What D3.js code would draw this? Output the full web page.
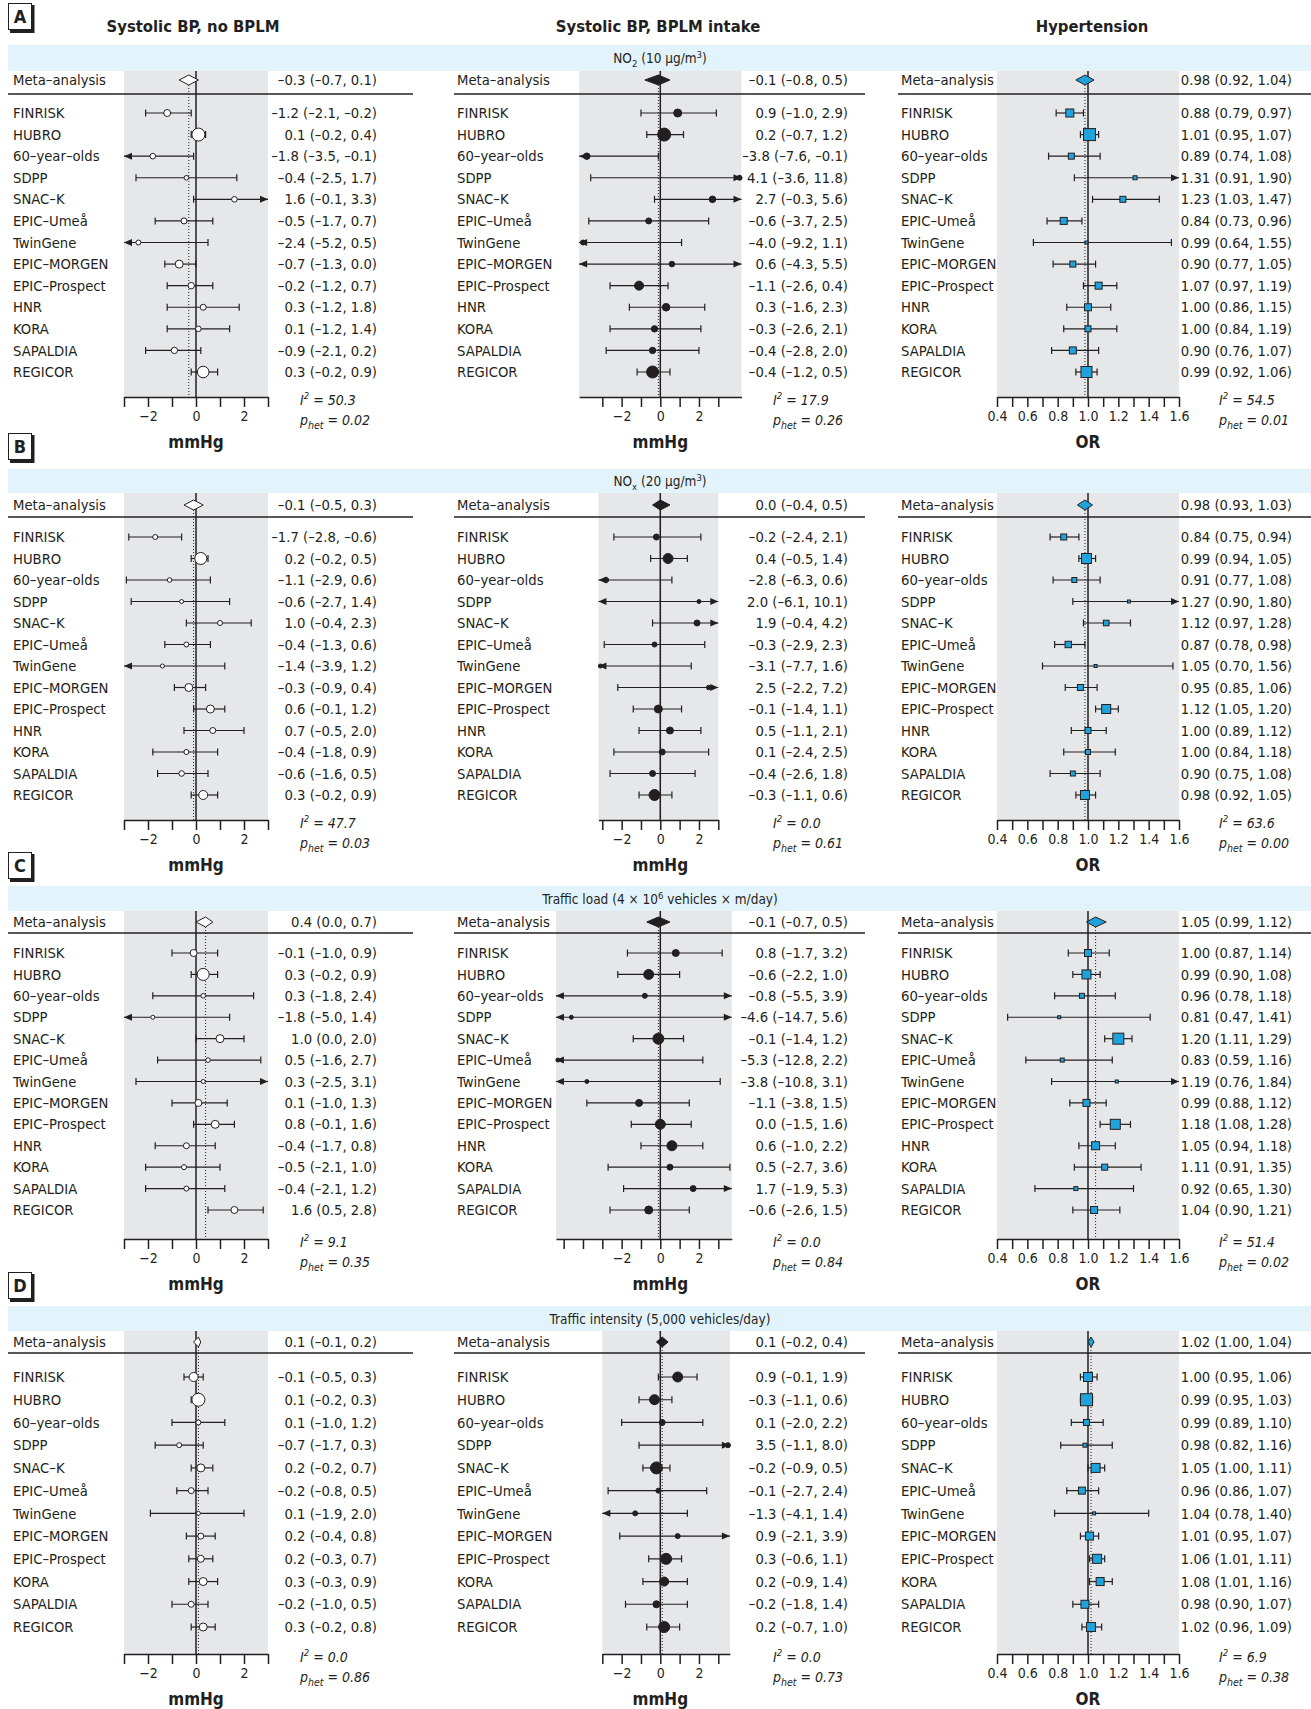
<!DOCTYPE html>
<meta charset="utf-8">
<style>
body { margin: 0; background: #fff; }
svg text { font-family: "Liberation Sans Narrow", "Arial Narrow", "DejaVu Sans Condensed", sans-serif; fill: #231f20; }
.lbl, .val { font-size: 14.7px; }
.het { font-size: 14px; font-style: italic; }
.title { font-size: 16.5px; font-weight: bold; }
.band { font-size: 13.5px; }
.letter { font-size: 18px; font-weight: bold; }
.axis text { font-size: 14px; font-family: "Liberation Sans Narrow", "DejaVu Sans Condensed", sans-serif; fill: #231f20; }
.axis path, .axis line { stroke: #231f20; stroke-width: 1.5; }
.unit { font-size: 17px; font-weight: bold; }
</style>
<body>
<script src="https://d3js.org/d3.v7.min.js"></script>
<script>

// ---- data ----
var studies = ["FINRISK", "HUBRO", "60–year–olds", "SDPP", "SNAC–K", "EPIC–Umeå", "TwinGene",
               "EPIC–MORGEN", "EPIC–Prospect", "HNR", "KORA", "SAPALDIA", "REGICOR"];
var studiesD = ["FINRISK", "HUBRO", "60–year–olds", "SDPP", "SNAC–K", "EPIC–Umeå", "TwinGene",
                "EPIC–MORGEN", "EPIC–Prospect", "KORA", "SAPALDIA", "REGICOR"];

var columnTitles = ["Systolic BP, no BPLM", "Systolic BP, BPLM intake", "Hypertension"];

// [estimate, lower, upper]
// A: NO2
var sbpNoNO2 = [[-1.2,-2.1,-0.2],[0.1,-0.2,0.4],[-1.8,-3.5,-0.1],[-0.4,-2.5,1.7],[1.6,-0.1,3.3],[-0.5,-1.7,0.7],[-2.4,-5.2,0.5],[-0.7,-1.3,0.0],[-0.2,-1.2,0.7],[0.3,-1.2,1.8],[0.1,-1.2,1.4],[-0.9,-2.1,0.2],[0.3,-0.2,0.9]];
var sbpMedNO2 = [[0.9,-1.0,2.9],[0.2,-0.7,1.2],[-3.8,-7.6,-0.1],[4.1,-3.6,11.8],[2.7,-0.3,5.6],[-0.6,-3.7,2.5],[-4.0,-9.2,1.1],[0.6,-4.3,5.5],[-1.1,-2.6,0.4],[0.3,-1.6,2.3],[-0.3,-2.6,2.1],[-0.4,-2.8,2.0],[-0.4,-1.2,0.5]];
var htnNO2 = [[0.88,0.79,0.97],[1.01,0.95,1.07],[0.89,0.74,1.08],[1.31,0.91,1.90],[1.23,1.03,1.47],[0.84,0.73,0.96],[0.99,0.64,1.55],[0.90,0.77,1.05],[1.07,0.97,1.19],[1.00,0.86,1.15],[1.00,0.84,1.19],[0.90,0.76,1.07],[0.99,0.92,1.06]];
var metaNO2 = [[-0.3,-0.7,0.1],[-0.1,-0.8,0.5],[0.98,0.92,1.04]];
var hetNO2 = [["50.3","0.02"],["17.9","0.26"],["54.5","0.01"]];
var sizeNO2 = [[3.5,6.5,2.8,2.3,2.8,3,2.5,4,3.2,3,2.8,3.2,5.8],
               [4,6.5,3.2,2.5,3.3,3,2.5,2.8,4.5,3.8,3.2,3.2,6],
               [4,6,3,2,3,3.5,1.5,3,3.5,3.5,3,3.5,5.5]];

// B: NOx
var sbpNoNOx = [[-1.7,-2.8,-0.6],[0.2,-0.2,0.5],[-1.1,-2.9,0.6],[-0.6,-2.7,1.4],[1.0,-0.4,2.3],[-0.4,-1.3,0.6],[-1.4,-3.9,1.2],[-0.3,-0.9,0.4],[0.6,-0.1,1.2],[0.7,-0.5,2.0],[-0.4,-1.8,0.9],[-0.6,-1.6,0.5],[0.3,-0.2,0.9]];
var sbpMedNOx = [[-0.2,-2.4,2.1],[0.4,-0.5,1.4],[-2.8,-6.3,0.6],[2.0,-6.1,10.1],[1.9,-0.4,4.2],[-0.3,-2.9,2.3],[-3.1,-7.7,1.6],[2.5,-2.2,7.2],[-0.1,-1.4,1.1],[0.5,-1.1,2.1],[0.1,-2.4,2.5],[-0.4,-2.6,1.8],[-0.3,-1.1,0.6]];
var htnNOx = [[0.84,0.75,0.94],[0.99,0.94,1.05],[0.91,0.77,1.08],[1.27,0.90,1.80],[1.12,0.97,1.28],[0.87,0.78,0.98],[1.05,0.70,1.56],[0.95,0.85,1.06],[1.12,1.05,1.20],[1.00,0.89,1.12],[1.00,0.84,1.18],[0.90,0.75,1.08],[0.98,0.92,1.05]];
var metaNOx = [[-0.1,-0.5,0.3],[0.0,-0.4,0.5],[0.98,0.93,1.03]];
var hetNOx = [["47.7","0.03"],["0.0","0.61"],["63.6","0.00"]];
var sizeNOx = [[2.5,6,2.3,2,2.5,2.5,2,4,4,3,2.5,2.8,4.5],
               [3,5,2.5,2,3,2.5,2,2.2,4,3.5,3,3,5.5],
               [3,5,2.5,1.5,2.8,3.2,1.5,3,4.5,3,2.5,2.5,4.5]];

// C: traffic load
var sbpNoLoad = [[-0.1,-1.0,0.9],[0.3,-0.2,0.9],[0.3,-1.8,2.4],[-1.8,-5.0,1.4],[1.0,0.0,2.0],[0.5,-1.6,2.7],[0.3,-2.5,3.1],[0.1,-1.0,1.3],[0.8,-0.1,1.6],[-0.4,-1.7,0.8],[-0.5,-2.1,1.0],[-0.4,-2.1,1.2],[1.6,0.5,2.8]];
var sbpMedLoad = [[0.8,-1.7,3.2],[-0.6,-2.2,1.0],[-0.8,-5.5,3.9],[-4.6,-14.7,5.6],[-0.1,-1.4,1.2],[-5.3,-12.8,2.2],[-3.8,-10.8,3.1],[-1.1,-3.8,1.5],[0.0,-1.5,1.6],[0.6,-1.0,2.2],[0.5,-2.7,3.6],[1.7,-1.9,5.3],[-0.6,-2.6,1.5]];
var htnLoad = [[1.00,0.87,1.14],[0.99,0.90,1.08],[0.96,0.78,1.18],[0.81,0.47,1.41],[1.20,1.11,1.29],[0.83,0.59,1.16],[1.19,0.76,1.84],[0.99,0.88,1.12],[1.18,1.08,1.28],[1.05,0.94,1.18],[1.11,0.91,1.35],[0.92,0.65,1.30],[1.04,0.90,1.21]];
var metaLoad = [[0.4,0.0,0.7],[-0.1,-0.7,0.5],[1.05,0.99,1.12]];
var hetLoad = [["9.1","0.35"],["0.0","0.84"],["51.4","0.02"]];
var sizeLoad = [[3.5,6,2.3,2,4,2.3,2,3.5,4,3,2.5,2.5,3.5],
                [3.5,5,2.5,2,5.5,2,2,3.5,5,5,3,3,4],
                [3.5,4.5,2.5,1.5,5.5,2,1.5,3.5,5,4,3,2,3.5]];

// D: traffic intensity
var sbpNoInt = [[-0.1,-0.5,0.3],[0.1,-0.2,0.3],[0.1,-1.0,1.2],[-0.7,-1.7,0.3],[0.2,-0.2,0.7],[-0.2,-0.8,0.5],[0.1,-1.9,2.0],[0.2,-0.4,0.8],[0.2,-0.3,0.7],[0.3,-0.3,0.9],[-0.2,-1.0,0.5],[0.3,-0.2,0.8]];
var sbpMedInt = [[0.9,-0.1,1.9],[-0.3,-1.1,0.6],[0.1,-2.0,2.2],[3.5,-1.1,8.0],[-0.2,-0.9,0.5],[-0.1,-2.7,2.4],[-1.3,-4.1,1.4],[0.9,-2.1,3.9],[0.3,-0.6,1.1],[0.2,-0.9,1.4],[-0.2,-1.8,1.4],[0.2,-0.7,1.0]];
var htnInt = [[1.00,0.95,1.06],[0.99,0.95,1.03],[0.99,0.89,1.10],[0.98,0.82,1.16],[1.05,1.00,1.11],[0.96,0.86,1.07],[1.04,0.78,1.40],[1.01,0.95,1.07],[1.06,1.01,1.11],[1.08,1.01,1.16],[0.98,0.90,1.07],[1.02,0.96,1.09]];
var metaInt = [[0.1,-0.1,0.2],[0.1,-0.2,0.4],[1.02,1.00,1.04]];
var hetInt = [["0.0","0.86"],["0.0","0.73"],["6.9","0.38"]];
var sizeInt = [[4.5,6.5,2.5,2.5,4,3,2,3,3.5,4,3,4],
               [5,5,3,2.5,6,2.5,2.5,2.5,5.5,4.5,3.5,5.5],
               [4.5,6,3,2,4.5,3.5,1.5,4,4.5,4,4,4.5]];

// ---- layout ----
var ink = "#231f20", grey = "#e6e7e8", bandFill = "#e3f3fb", blue = "#1fa3dc";

var panels = [
  {letter: "A", top: 3, bandTop: 45, bandBot: 71, metaY: 80, lineY: 94, row0: 113, rowN: 372, axisY: 397,
   rows: studies, band: [["NO"], ["2", "sub"], [" (10 μg/m"], ["3", "sup"], [")"]],
   data: [sbpNoNO2, sbpMedNO2, htnNO2], size: sizeNO2, meta: metaNO2, het: hetNO2,
   mid: {dom: [-4.2, 4.2], ticks: [-3, -2, -1, 0, 1, 2, 3]}},
  {letter: "B", top: 433, bandTop: 469, bandBot: 493, metaY: 505, lineY: 517, row0: 537, rowN: 795, axisY: 820,
   rows: studies, band: [["NO"], ["x", "sub"], [" (20 μg/m"], ["3", "sup"], [")"]],
   data: [sbpNoNOx, sbpMedNOx, htnNOx], size: sizeNOx, meta: metaNOx, het: hetNOx,
   mid: {dom: [-3.2, 3.0], ticks: [-3, -2, -1, 0, 1, 2, 3]}},
  {letter: "C", top: 852, bandTop: 886, bandBot: 911, metaY: 922, lineY: 933, row0: 953, rowN: 1210, axisY: 1239,
   rows: studies, band: [["Traffic load (4 × 10"], ["6", "sup"], [" vehicles × m/day)"]],
   data: [sbpNoLoad, sbpMedLoad, htnLoad], size: sizeLoad, meta: metaLoad, het: hetLoad,
   mid: {dom: [-5.4, 3.7], ticks: [-5, -4, -3, -2, -1, 0, 1, 2, 3]}},
  {letter: "D", top: 1272, bandTop: 1306, bandBot: 1331, metaY: 1342, lineY: 1353, row0: 1377, rowN: 1627, axisY: 1654,
   rows: studiesD, band: [["Traffic intensity (5,000 vehicles/day)"]],
   data: [sbpNoInt, sbpMedInt, htnInt], size: sizeInt, meta: metaInt, het: hetInt,
   mid: {dom: [-3.0, 3.6], ticks: [-3, -2, -1, 0, 1, 2, 3]}}
];

var cols = [
  {labelX: 13, valueX: 377, hetX: 300, hline: [8, 413], kind: "open", unit: "mmHg", dec: 1, nullV: 0, titleX: 193},
  {labelX: 457, valueX: 848, hetX: 773, hline: [454, 865], kind: "filled", unit: "mmHg", dec: 1, nullV: 0, titleX: 658},
  {labelX: 901, valueX: 1292, hetX: 1219, hline: [898, 1311], kind: "square", unit: "OR", dec: 2, nullV: 1, titleX: 1092}
];

function fmtNum(v, dec) {
  return d3.format("." + dec + "f")(v).replace("−", "–").replace("-", "–");
}
function ciText(d, dec) {
  return fmtNum(d[0], dec) + " (" + fmtNum(d[1], dec) + ", " + fmtNum(d[2], dec) + ")";
}

function xScale(ci, p) {
  if (ci === 0) return d3.scaleLinear().domain([-3, 3]).range([124, 268]);
  if (ci === 2) return d3.scaleLinear().domain([0.4, 1.6]).range([997, 1179]);
  // middle column: same units per mmHg in every panel, domain varies
  var unit = 19.33, zero = 660.3;
  return d3.scaleLinear().domain(p.mid.dom).range(p.mid.dom.map(function(v) { return zero + v * unit; }));
}

var svg = d3.select("body").append("svg").attr("width", 1311).attr("height", 1709);

// column titles
svg.selectAll(".title").data(columnTitles).enter().append("text")
  .attr("class", "title")
  .attr("x", function(d, i) { return cols[i].titleX; })
  .attr("y", 32)
  .attr("text-anchor", "middle")
  .text(function(d) { return d; });

panels.forEach(function(p) {
  var g = svg.append("g");

  // letter box
  g.append("rect").attr("x", 8.5).attr("y", p.top + 0.5).attr("width", 23).attr("height", 26)
    .attr("fill", "#fff").attr("stroke", ink).attr("stroke-width", 1);
  g.append("path").attr("d", "M33," + (p.top + 2) + "V" + (p.top + 28.5) + "H10")
    .attr("fill", "none").attr("stroke", ink).attr("stroke-width", 3);
  g.append("text").attr("class", "letter").attr("x", 20).attr("y", p.top + 20)
    .attr("text-anchor", "middle").text(p.letter);

  // exposure band
  g.append("rect").attr("x", 8).attr("y", p.bandTop).attr("width", 1303).attr("height", p.bandBot - p.bandTop)
    .attr("fill", bandFill);
  var bt = g.append("text").attr("class", "band").attr("x", 660).attr("y", (p.bandTop + p.bandBot) / 2 + 5)
    .attr("text-anchor", "middle");
  var shift = 0;
  p.band.forEach(function(part) {
    var ts = bt.append("tspan").text(part[0]);
    var target = part[1] === "sub" ? 4 : part[1] === "sup" ? -5 : 0;
    if (target !== shift) { ts.attr("dy", target - shift); shift = target; }
    if (part[1]) ts.style("font-size", "9.5px");
  });

  var y = d3.scalePoint().domain(p.rows).range([p.row0, p.rowN]);

  cols.forEach(function(c, ci) {
    var x = xScale(ci, p);
    var dom = x.domain(), x0 = x(dom[0]), x1 = x(dom[1]);
    var data = p.data[ci], sizes = p.size[ci], meta = p.meta[ci];
    var cg = g.append("g");

    // grey plotting area
    cg.append("rect").attr("x", x0).attr("y", p.bandBot).attr("width", x1 - x0).attr("height", p.axisY - p.bandBot)
      .attr("fill", grey);

    // dotted line at pooled estimate
    cg.append("line").attr("x1", x(meta[0])).attr("x2", x(meta[0]))
      .attr("y1", p.metaY + 5).attr("y2", p.axisY)
      .attr("stroke", ink).attr("stroke-width", 1).attr("stroke-dasharray", "1,2");

    // null line
    cg.append("line").attr("x1", x(c.nullV)).attr("x2", x(c.nullV))
      .attr("y1", p.bandBot).attr("y2", p.axisY)
      .attr("stroke", ink).attr("stroke-width", 1.5);

    // rule under meta-analysis
    cg.append("line").attr("x1", c.hline[0]).attr("x2", c.hline[1])
      .attr("y1", p.lineY).attr("y2", p.lineY).attr("stroke", ink).attr("stroke-width", 1.3);

    // labels
    cg.append("text").attr("class", "lbl").attr("x", c.labelX).attr("y", p.metaY).attr("dy", "0.35em")
      .text("Meta–analysis");
    cg.append("text").attr("class", "val").attr("x", c.valueX).attr("y", p.metaY).attr("dy", "0.35em")
      .attr("text-anchor", "end").text(ciText(meta, c.dec));

    cg.selectAll(".lbl.row").data(p.rows).enter().append("text")
      .attr("class", "lbl row").attr("x", c.labelX).attr("y", function(d) { return y(d); }).attr("dy", "0.35em")
      .text(function(d) { return d; });
    cg.selectAll(".val.row").data(data).enter().append("text")
      .attr("class", "val row").attr("x", c.valueX).attr("y", function(d, i) { return y(p.rows[i]); })
      .attr("dy", "0.35em").attr("text-anchor", "end")
      .text(function(d) { return ciText(d, c.dec); });

    // confidence intervals
    data.forEach(function(d, i) {
      var yy = y(p.rows[i]);
      var lo = Math.max(d[1], dom[0]), hi = Math.min(d[2], dom[1]);
      cg.append("line").attr("x1", x(lo)).attr("x2", x(hi)).attr("y1", yy).attr("y2", yy)
        .attr("stroke", ink).attr("stroke-width", 1.2);
      [[d[1], dom[0], -1], [d[2], dom[1], 1]].forEach(function(e) {
        var outside = e[2] < 0 ? e[0] < e[1] : e[0] > e[1];
        if (outside) {
          var xe = x(e[1]);
          cg.append("path")
            .attr("d", "M" + xe + "," + yy + "L" + (xe - e[2] * 8) + "," + (yy - 3.5) + "L" + (xe - e[2] * 8) + "," + (yy + 3.5) + "Z")
            .attr("fill", ink);
        } else {
          cg.append("line").attr("x1", x(e[0])).attr("x2", x(e[0])).attr("y1", yy - 3.5).attr("y2", yy + 3.5)
            .attr("stroke", ink).attr("stroke-width", 1.2);
        }
      });
    });

    // study markers
    data.forEach(function(d, i) {
      var yy = y(p.rows[i]), s = sizes[i], xc = x(Math.max(dom[0], Math.min(dom[1], d[0])));
      if (c.kind === "square") {
        cg.append("rect").attr("x", xc - s).attr("y", yy - s).attr("width", 2 * s).attr("height", 2 * s)
          .attr("fill", blue).attr("stroke", ink).attr("stroke-width", 1);
      } else {
        cg.append("circle").attr("cx", xc).attr("cy", yy).attr("r", s)
          .attr("fill", c.kind === "open" ? "#fff" : ink).attr("stroke", ink).attr("stroke-width", 1);
      }
    });

    // pooled diamond
    var my = p.metaY;
    cg.append("path")
      .attr("d", "M" + x(meta[1]) + "," + my + "L" + x(meta[0]) + "," + (my - 5) + "L" + x(meta[2]) + "," + my +
                 "L" + x(meta[0]) + "," + (my + 5) + "Z")
      .attr("fill", c.kind === "open" ? "#fff" : c.kind === "filled" ? ink : blue)
      .attr("stroke", ink).attr("stroke-width", 1);

    // axis
    var tv = ci === 2 ? d3.range(4, 17).map(function(v) { return v / 10; }) : ci === 1 ? p.mid.ticks : d3.range(-3, 4);
    var axis = d3.axisBottom(x).tickValues(tv).tickSize(10).tickSizeOuter(0).tickPadding(4)
      .tickFormat(function(v) {
        if (ci === 2) return Math.round(v * 10) % 2 === 0 ? d3.format(".1f")(v) : "";
        return (v === -2 || v === 0 || v === 2) ? d3.format("d")(v) : "";
      });
    cg.append("g").attr("class", "axis").attr("transform", "translate(0," + p.axisY + ")").call(axis);

    cg.append("text").attr("class", "unit").attr("x", x(c.nullV)).attr("y", p.axisY + 51)
      .attr("text-anchor", "middle").text(c.unit);

    // heterogeneity
    var h = p.het[ci];
    var t1 = cg.append("text").attr("class", "het").attr("x", c.hetX).attr("y", p.axisY + 8);
    t1.append("tspan").text("I");
    t1.append("tspan").attr("dy", -6).style("font-size", "9.5px").text("2");
    t1.append("tspan").attr("dy", 6).text(" = " + h[0]);
    var t2 = cg.append("text").attr("class", "het").attr("x", c.hetX).attr("y", p.axisY + 28);
    t2.append("tspan").text("p");
    t2.append("tspan").attr("dy", 4).style("font-size", "10.5px").text("het");
    t2.append("tspan").attr("dy", -4).text(" = " + h[1]);
  });
});

</script>
</body>
